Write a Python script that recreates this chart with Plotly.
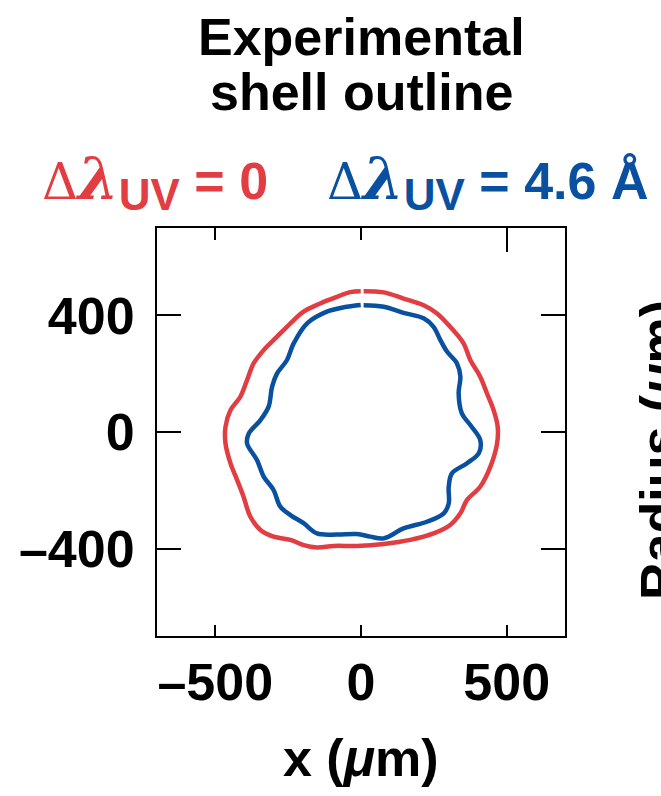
import plotly.graph_objects as go

# ---- data (µm) ----
red_x = [9, 78, 146, 215, 261, 306, 352, 375, 409, 432, 455, 469, 467, 444, 409, 364, 341, 306, 249,
         169, 78, -14, -94, -151, -197, -242, -300, -345, -380, -403, -425, -448, -465, -465, -448,
         -414, -391, -368, -334, -288, -242, -197, -140, -82, -37, -1]
red_y = [483, 479, 458, 435, 407, 361, 304, 247, 190, 133, 75, 18, -39, -119, -188, -233, -279, -319,
         -348, -370, -384, -391, -391, -396, -388, -370, -359, -336, -290, -222, -165, -107, -39, 18,
         75, 121, 178, 236, 281, 327, 373, 413, 441, 464, 480, 483]

blue_x = [9, 78, 146, 215, 249, 272, 295, 329, 341, 335, 346, 375, 409, 404, 364, 312, 301, 301, 284,
          226, 146, 78, 32, -14, -82, -151, -197, -242, -277, -300, -334, -357, -391, -385, -345, -317,
          -305, -288, -254, -231, -185, -117, -59, -1]
blue_y = [435, 430, 409, 390, 361, 316, 276, 236, 190, 133, 64, 24, -27, -73, -107, -142, -188, -245,
          -279, -308, -331, -365, -359, -350, -352, -348, -313, -285, -256, -199, -153, -96, -39, -5,
          41, 87, 156, 201, 247, 304, 373, 413, 428, 436]

x_tickvals = [-500, 0, 500]
x_ticktext = ["–500", "0", "500"]
y_tickvals = [-400, 0, 400]
y_ticktext = ["–400", "0", "400"]

RED = "#E13D42"
BLUE = "#0A50A0"
FONT = "Liberation Sans, Arial, Helvetica, sans-serif"

fig = go.Figure()
fig.add_trace(go.Scatter(x=red_x, y=red_y, mode="lines",
                         line=dict(color=RED, width=4.5, shape="spline"), showlegend=False))
fig.add_trace(go.Scatter(x=blue_x, y=blue_y, mode="lines",
                         line=dict(color=BLUE, width=4.5, shape="spline"), showlegend=False))
# empty traces so the top tick axes are created
fig.add_trace(go.Scatter(x=[], y=[], xaxis="x2", yaxis="y", showlegend=False, hoverinfo="skip"))
fig.add_trace(go.Scatter(x=[], y=[], xaxis="x3", yaxis="y", showlegend=False, hoverinfo="skip"))

L, R, T, B = 157, 96, 228, 160
W, H = 661, 796
PW, PH = W - L - R, H - T - B


def px_x(p):
    return (p - L) / PW


def px_y(p):
    return (H - B - p) / PH


tickfont = dict(family=FONT, size=52, color="black", weight="bold")

fig.update_layout(
    width=W, height=H,
    margin=dict(l=L, r=R, t=T, b=B, pad=0),
    plot_bgcolor="white", paper_bgcolor="white",
    showlegend=False,
    xaxis=dict(range=[-700, 700], tickvals=x_tickvals, ticktext=x_ticktext,
               ticks="inside", ticklen=11, tickwidth=2, tickcolor="black",
               showline=True, linewidth=2, linecolor="black", mirror=True,
               showgrid=False, zeroline=False, tickfont=tickfont,
               ticklabelstandoff=0, fixedrange=True),
    xaxis2=dict(range=[-700, 700], overlaying="x", side="top", anchor="y",
                tickvals=[-500, 0], ticks="inside", ticklen=12, tickwidth=2,
                tickcolor="black", showticklabels=False, showline=False,
                showgrid=False, zeroline=False, fixedrange=True),
    xaxis3=dict(range=[-700, 700], overlaying="x", side="top", anchor="y",
                tickvals=[500], ticks="inside", ticklen=24, tickwidth=2,
                tickcolor="black", showticklabels=False, showline=False,
                showgrid=False, zeroline=False, fixedrange=True),
    yaxis=dict(range=[-700, 700], tickvals=y_tickvals, ticktext=y_ticktext,
               ticks="inside", ticklen=24, tickwidth=2, tickcolor="black",
               showline=True, linewidth=2, linecolor="black", mirror="ticks",
               showgrid=False, zeroline=False, tickfont=tickfont,
               ticklabelstandoff=10, fixedrange=True),
)

big = dict(family=FONT, size=52, color="black", weight="bold")
ann = []
ann.append(dict(text="Experimental", x=0.5, y=px_y(37), xref="paper", yref="paper",
                xanchor="center", yanchor="middle", showarrow=False, font=big))
ann.append(dict(text="shell outline", x=0.5, y=px_y(92), xref="paper", yref="paper",
                xanchor="center", yanchor="middle", showarrow=False, font=big))

delta = '<span style="font-family:DejaVu Serif;font-weight:normal;font-size:50px">Δ</span>'
lam = '<span style="font-family:DejaVu Serif;font-size:58px"><i>λ</i></span>'
sub = '<sub><span style="font-size:44px">UV</span></sub>'
ann.append(dict(text=delta + lam + sub + " = 0", x=px_x(40), y=px_y(182),
                xref="paper", yref="paper", xanchor="left", yanchor="middle",
                showarrow=False, font=dict(family=FONT, size=52, color=RED, weight="bold")))
ann.append(dict(text=delta + lam + sub + " = 4.6 Å", x=px_x(325), y=px_y(182),
                xref="paper", yref="paper", xanchor="left", yanchor="middle",
                showarrow=False, font=dict(family=FONT, size=52, color=BLUE, weight="bold")))

ann.append(dict(text="x (<i>μ</i>m)", x=0.5, y=px_y(758), xref="paper", yref="paper",
                xanchor="center", yanchor="middle", showarrow=False, font=big))
ann.append(dict(text="Radius (<i>μ</i>m)", x=px_x(659), y=px_y(450), xref="paper",
                yref="paper", xanchor="center", yanchor="middle", textangle=-90,
                showarrow=False, font=big))
fig.update_layout(annotations=ann)

fig.write_html("out.html")
